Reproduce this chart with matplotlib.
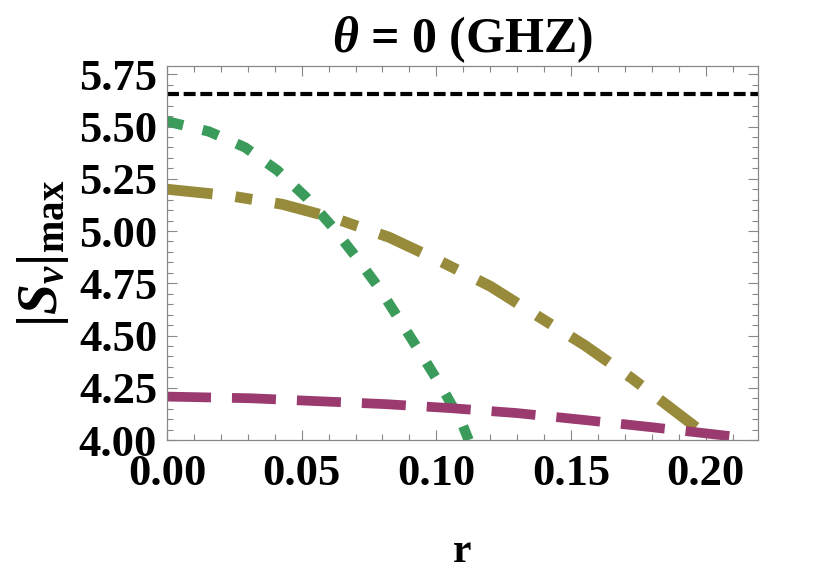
import numpy as np
import matplotlib
matplotlib.use("Agg")
import matplotlib.pyplot as plt
from matplotlib.ticker import MultipleLocator, FormatStrFormatter

# =========================
# data
# =========================

bound = 4 * np.sqrt(2)

r_green = [0.0, 0.0156, 0.029, 0.041, 0.0517, 0.0613, 0.0703, 0.0788,
           0.0866, 0.0944, 0.1022, 0.1093, 0.112]
s_green = [5.525, 5.476, 5.40, 5.29, 5.161, 5.022, 4.874, 4.726,
           4.569, 4.411, 4.248, 4.086, 4.0]

r_olive = [0.0, 0.0227, 0.0428, 0.0625, 0.0825, 0.1015, 0.12, 0.138,
           0.155, 0.1725, 0.189, 0.2026]
s_olive = [5.2, 5.17, 5.128, 5.06, 4.97, 4.855, 4.736, 4.59,
           4.454, 4.296, 4.134, 4.0]

r_purple = [0.0, 0.031, 0.056, 0.081, 0.105, 0.13, 0.155, 0.1796, 0.2123]
s_purple = [4.208, 4.20, 4.186, 4.172, 4.153, 4.129, 4.096, 4.062, 4.014]

# =========================
# style
# =========================

plt.rcParams["font.family"] = ["Liberation Serif", "DejaVu Serif"]
plt.rcParams["font.weight"] = "bold"
plt.rcParams["mathtext.fontset"] = "custom"
plt.rcParams["mathtext.rm"] = "Liberation Serif:bold"
plt.rcParams["mathtext.it"] = "Liberation Serif:italic:bold"
plt.rcParams["mathtext.bf"] = "Liberation Serif:bold"
plt.rcParams["lines.scale_dashes"] = False

fig = plt.figure(figsize=(8.34, 5.73), dpi=100)
ax = fig.add_axes([0.2002, 0.232, 0.709, 0.653])

ax.axhline(bound, color="black", lw=3.0, dashes=(8.6, 3.4))

ax.plot(r_green, s_green, color="#3A9B5B", lw=7.4, dashes=(12.0, 14.4),
        solid_capstyle="butt", dash_capstyle="butt")
ax.plot(r_olive, s_olive, color="#978A3A", lw=7.8,
        dashes=(33.0, 16.6, 12.2, 16.6),
        solid_capstyle="butt", dash_capstyle="butt")
ax.plot(r_purple, s_purple, color="#9A3A6E", lw=7.0, dashes=(31.7, 15.1),
        solid_capstyle="butt", dash_capstyle="butt")

ax.set_xlim(0, 0.2195)
ax.set_ylim(4.0, 5.79)

ax.xaxis.set_major_locator(MultipleLocator(0.05))
ax.xaxis.set_minor_locator(MultipleLocator(0.01))
ax.yaxis.set_major_locator(MultipleLocator(0.25))
ax.yaxis.set_minor_locator(MultipleLocator(0.05))
ax.xaxis.set_major_formatter(FormatStrFormatter("%.2f"))
ax.yaxis.set_major_formatter(FormatStrFormatter("%.2f"))

ax.tick_params(which="both", direction="in", top=True, right=True,
               color="#888888", width=0.8)
ax.tick_params(which="major", length=7)
ax.tick_params(which="minor", length=4)
ax.tick_params(axis="y", labelsize=32, pad=7)
ax.tick_params(axis="x", labelsize=32, pad=10)
for sp in ax.spines.values():
    sp.set_color("#888888")
    sp.set_linewidth(0.9)

ax.set_xlabel("r", fontsize=30, fontweight="bold", labelpad=28)
ax.set_ylabel(r"$|S_{\nu}|_{\mathrm{max}}$", fontsize=40, labelpad=6)
ax.set_title(r"$\theta$ = 0 (GHZ)", fontsize=36, fontweight="bold", pad=10)

fig.savefig("out.png", dpi=100)
plt.close(fig)
